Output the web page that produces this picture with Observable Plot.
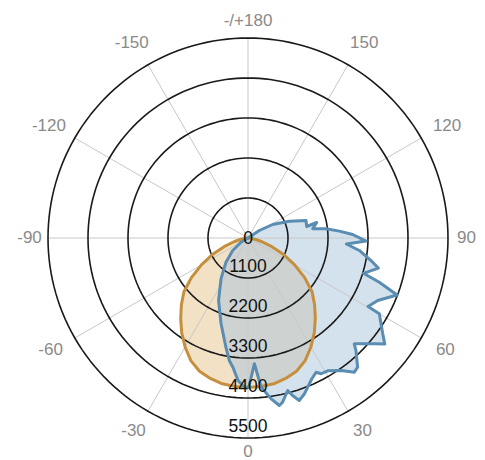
<!DOCTYPE html>
<html><head><meta charset="utf-8">
<script src="https://cdn.jsdelivr.net/npm/d3@7"></script>
<script src="https://cdn.jsdelivr.net/npm/@observablehq/plot@0.6"></script>
<style>html,body{margin:0;padding:0;background:#fff;}</style>
</head><body><div id="chart"></div>
<script>
// ---- data ----
const ringValues = [1100, 2200, 3300, 4400, 5500];
const radialTickValues = [0, 1100, 2200, 3300, 4400, 5500];
const radialTickLabels = ["0", "1100", "2200", "3300", "4400", "5500"];
const spokeAngles = [0, 30, 60, 90, 120, 150, 180, 210, 240, 270, 300, 330];
const angleTickAngles = [180, 150, 120, 90, 60, 30, 0, -30, -60, -90, -120, -150];
const angleTickLabels = ["-/+180", "150", "120", "90", "60", "30", "0", "-30", "-60", "-90", "-120", "-150"];

// C0/C180 plane (orange)
const orangeAngles = [-90,-85,-80,-75,-70,-65,-60,-55,-50,-45,-40,-35,-30,-25,-20,-15,-10,-5,0,5,10,15,20,25,30,35,40,45,50,55,60,65,70,75,80,85,90];
const orangeValues = [0,60,200,400,700,1090,1480,1900,2300,2590,2880,3180,3460,3720,3900,4000,4070,4100,4110,4100,4070,4000,3900,3720,3460,3180,2880,2590,2300,1900,1480,1090,700,400,200,60,0];

// C90/C270 plane (blue)
const blueAngles = [-60,-59,-50.8,-42.3,-33.5,-25.2,-17.5,-11.4,-8.7,-6.6,-4,-1.5,0.3,2.9,5,8.2,10.6,11.9,14.6,15.8,17.5,19.9,24.4,26.9,28.3,31,35.1,38.4,40.3,43.8,45.1,50.1,52.2,54.6,60,60.3,64.3,69.1,71.4,73,77,79.6,83.6,86.5,88.5,91.9,94.3,96.7,98.1,102.7,101.1,106.8,112.1,118.7,123.6,135];
const blueValues = [0,225,543,900,1346,1900,2466,3071,3408,3586,3930,4100,4110,3460,4114,4470,4686,4615,4333,4502,4686,4557,4250,4140,4240,4260,4452,4708,4660,4290,4124,4531,4760,4546,4170,3800,3960,4390,3810,3320,3680,3438,3080,2710,3250,2881,2518,2160,1797,1937,1645,1666,1226,773,373,0];

// ---- helpers ----
const rad = d => d * Math.PI / 180;
const polar = (a, v) => ({x: v * Math.sin(rad(a)), y: v * Math.cos(rad(a))});
const rMax = 5500;
const pxToData = rMax / 200;

const orange = orangeAngles.map((a, i) => polar(a, orangeValues[i]));
const blue = blueAngles.map((a, i) => polar(a, blueValues[i]));

const rings = ringValues.flatMap(v => d3.range(0, 361, 2).map(a => ({...polar(a, v), ring: v})));
const spokes = spokeAngles.map(a => {
  const p = polar(a, rMax);
  return {x1: 0, y1: 0, x2: p.x, y2: p.y};
});

const angleLabelData = angleTickAngles.map((a, i) => {
  const s2 = Math.abs(Math.sin(rad(2 * a)));
  const base = 213.5 + 7 * s2 + 5 * Math.abs(Math.sin(rad(a))) + 4 * Math.max(0, -Math.cos(rad(a)));
  const extra = 4 * s2 * Math.sign(Math.sin(rad(a)));
  const p = polar(a, base * pxToData);
  return {x: p.x + extra * pxToData, y: p.y, label: angleTickLabels[i]};
});
const radialLabelData = radialTickValues.map((v, i) => ({x: 0, y: v, label: radialTickLabels[i]}));

const font = "Liberation Sans, Arial, Helvetica, sans-serif";

const chart = Plot.plot({
  width: 485,
  height: 460,
  marginLeft: 47.5,
  marginRight: 37.5,
  marginTop: 37.5,
  marginBottom: 22.5,
  style: {fontFamily: font, background: "#fff"},
  x: {domain: [-rMax, rMax], axis: null},
  y: {domain: [-rMax, rMax], reverse: true, axis: null},
  marks: [
    Plot.line(orange, {x: "x", y: "y", fill: "#e3b778", fillOpacity: 0.42, stroke: null}),
    Plot.line(blue, {x: "x", y: "y", fill: "#a9c6db", fillOpacity: 0.5, stroke: null}),
    Plot.link(spokes, {x1: "x1", y1: "y1", x2: "x2", y2: "y2", stroke: "#c8c8c8", strokeWidth: 1}),
    Plot.line(rings, {x: "x", y: "y", z: "ring", stroke: "#1a1a1a", strokeWidth: 1.6}),
    Plot.line(orange, {x: "x", y: "y", stroke: "#c58f3d", strokeWidth: 3}),
    Plot.line(blue, {x: "x", y: "y", stroke: "#5b8db3", strokeWidth: 3, strokeLinejoin: "round"}),
    Plot.text(angleLabelData, {x: "x", y: "y", text: "label", fill: "#8a8a8a", fontSize: 17, textAnchor: "middle", lineAnchor: "middle"}),
    Plot.text(radialLabelData.slice(0, 1), {x: "x", y: "y", text: "label", fill: "#111", fontSize: 17.5, textAnchor: "middle", lineAnchor: "middle"}),
    Plot.text(radialLabelData.slice(1), {x: "x", y: "y", text: "label", fill: "#111", fontSize: 17.5, textAnchor: "middle", lineAnchor: "middle", dy: -12})
  ]
});
document.getElementById("chart").appendChild(chart);
</script>
</body></html>
